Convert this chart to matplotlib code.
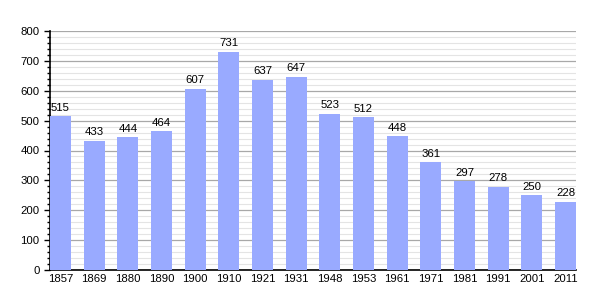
import numpy as np
import matplotlib
matplotlib.use("Agg")
import matplotlib.pyplot as plt
from matplotlib.ticker import MultipleLocator

# Données
years = ["1857", "1869", "1880", "1890", "1900", "1910", "1921", "1931",
         "1948", "1953", "1961", "1971", "1981", "1991", "2001", "2011"]
population = [515, 433, 444, 464, 607, 731, 637, 647,
              523, 512, 448, 361, 297, 278, 250, 228]

plt.rcParams['font.family'] = ['Liberation Sans', 'DejaVu Sans']

fig = plt.figure(figsize=(6.05, 3.0), dpi=100)
ax = fig.add_axes([50 / 605, 30 / 300, 526 / 605, 239 / 300])

x = np.arange(len(years))
ax.bar(x, population, width=0.62, color="#99aaff", zorder=3)

for xi, v in zip(x, population):
    ax.annotate(str(v), (xi, v), xytext=(0, 2.5), textcoords="offset points",
                ha="center", va="bottom", fontsize=8.2, zorder=4)

ax.set_xlim(-0.31, len(years) - 1 + 0.31)
ax.set_ylim(0, 800)
ax.set_xticks(x)
ax.set_xticklabels(years, fontsize=8.2)
ax.yaxis.set_major_locator(MultipleLocator(100))
ax.yaxis.set_minor_locator(MultipleLocator(20))
ax.tick_params(axis="y", labelsize=8.2, length=4, width=1)
ax.tick_params(axis="y", which="minor", length=2, width=1)
ax.tick_params(axis="x", length=0, pad=3)

ax.grid(axis="y", which="major", color="#a8a8a8", linewidth=0.9, zorder=0)
ax.grid(axis="y", which="minor", color="#e4e4e4", linewidth=0.8, zorder=0)
ax.set_axisbelow(True)

for s in ["top", "right"]:
    ax.spines[s].set_visible(False)
ax.spines["left"].set_linewidth(1.2)
ax.spines["bottom"].set_linewidth(1.2)

fig.savefig("out.png", dpi=100)
